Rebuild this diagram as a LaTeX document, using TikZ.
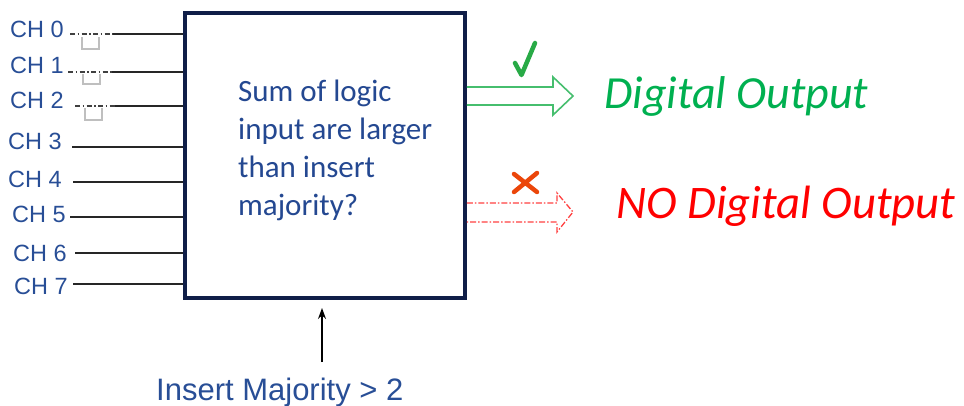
\documentclass[tikz,border=0pt]{standalone}
\usepackage{fontspec}
\setmainfont{Liberation Sans}
\newfontfamily\carfont{Carlito}
\usetikzlibrary{arrows.meta}
\definecolor{navy}{RGB}{16,30,72}
\definecolor{lblue}{RGB}{40,78,150}
\definecolor{tblue}{RGB}{36,72,145}
\definecolor{arrgreen}{RGB}{70,190,110}
\definecolor{txtgreen}{RGB}{0,176,80}
\definecolor{chkgreen}{RGB}{40,170,70}
\definecolor{xred}{RGB}{235,70,10}
\tikzset{
  chlabel/.style={anchor=base west, inner sep=0pt, text=lblue, font=\fontsize{23.5}{27}\selectfont},
  chline/.style={line width=1.2pt, black!85},
  predash/.style={line width=1.2pt, gray!50!black, dash pattern=on 5pt off 2.5pt on 1.5pt off 2.5pt},
  pulse/.style={line width=1.2pt, gray!50},
}
\begin{document}
\begin{tikzpicture}[x=1pt,y=-1pt]
\useasboundingbox (0,0) rectangle (964,405);
% main box
\node[draw=navy, line width=3.5pt, minimum width=280pt, minimum height=285pt, inner sep=0pt] (proc) at (325,155.5) {};
\node[anchor=base west, inner sep=0pt, align=left, text=tblue, font=\carfont\fontsize{31}{37.7}\selectfont] (q) at (238,215)
  {Sum of logic\\input are larger\\than insert\\majority?};
% channel labels
\node[chlabel] (l0) at (10,37) {CH 0};
\node[chlabel] (l1) at (10,73) {CH 1};
\node[chlabel] (l2) at (10,108) {CH 2};
\node[chlabel] (l3) at (8,149) {CH 3};
\node[chlabel] (l4) at (8,187) {CH 4};
\node[chlabel] (l5) at (12,222) {CH 5};
\node[chlabel] (l6) at (13,261) {CH 6};
\node[chlabel] (l7) at (14,294) {CH 7};
% line starts
\coordinate (d0) at (70,34);  \coordinate (s0) at (113,34);
\coordinate (d1) at (68,72);  \coordinate (s1) at (112,72);
\coordinate (d2) at (75,106); \coordinate (s2) at (115,106);
\coordinate (s3) at (72,147);
\coordinate (s4) at (73,182);
\coordinate (s5) at (70,217);
\coordinate (s6) at (75,253);
\coordinate (s7) at (73,284);
\foreach \i in {0,...,7} {\draw[chline] (s\i) -- (s\i -| proc.west);}
\foreach \i in {0,1,2} {\draw[predash] (d\i) -- (s\i);}
% pulses
\draw[pulse] (82,37) -- (82,49) -- (99,49) -- (99,37);
\draw[pulse] (83,74) -- (83,84) -- (100,84) -- (100,74);
\draw[pulse] (85,108) -- (85,120) -- (102,120) -- (102,108);
% green arrow
\draw[arrgreen, line width=1.6pt, line join=miter] (proc.east |- 0,87) -- (553,87) -- (553,77) -- (573,96) -- (553,115) -- (553,105) -- (proc.east |- 0,105);
\draw[chkgreen, line width=4.5pt, line cap=round, line join=round] (515,63) -- (521.5,75) -- (535,43);
\node[anchor=base west, inner sep=0pt, text=txtgreen, font=\carfont\itshape\fontsize{46}{52}\selectfont] (dout) at (604,108) {Digital Output};
% red arrow
\draw[red!75, line width=1.3pt, dash pattern=on 6pt off 2pt on 1.5pt off 2pt] (proc.east |- 0,203) -- (557,203) -- (557,193) -- (573,212) -- (557,232) -- (557,222) -- (proc.east |- 0,222);
\draw[xred, line width=4.5pt, line cap=round] (514,174) -- (537,192) (537,173) -- (514,192);
\node[anchor=base west, inner sep=0pt, text=red, font=\carfont\itshape\fontsize{46.7}{52}\selectfont] (nout) at (616,218) {NO Digital Output};
% majority input
\node[anchor=base west, inner sep=0pt, text=lblue, font=\fontsize{31}{36}\selectfont] (maj) at (156,400) {Insert Majority > 2};
\coordinate (mbot) at (322,362);
\coordinate (mtop) at (322,308);
\draw[line width=1.2pt, -{Stealth[length=11pt,width=8pt]}] (mbot) -- (mtop);
\end{tikzpicture}
\end{document}
